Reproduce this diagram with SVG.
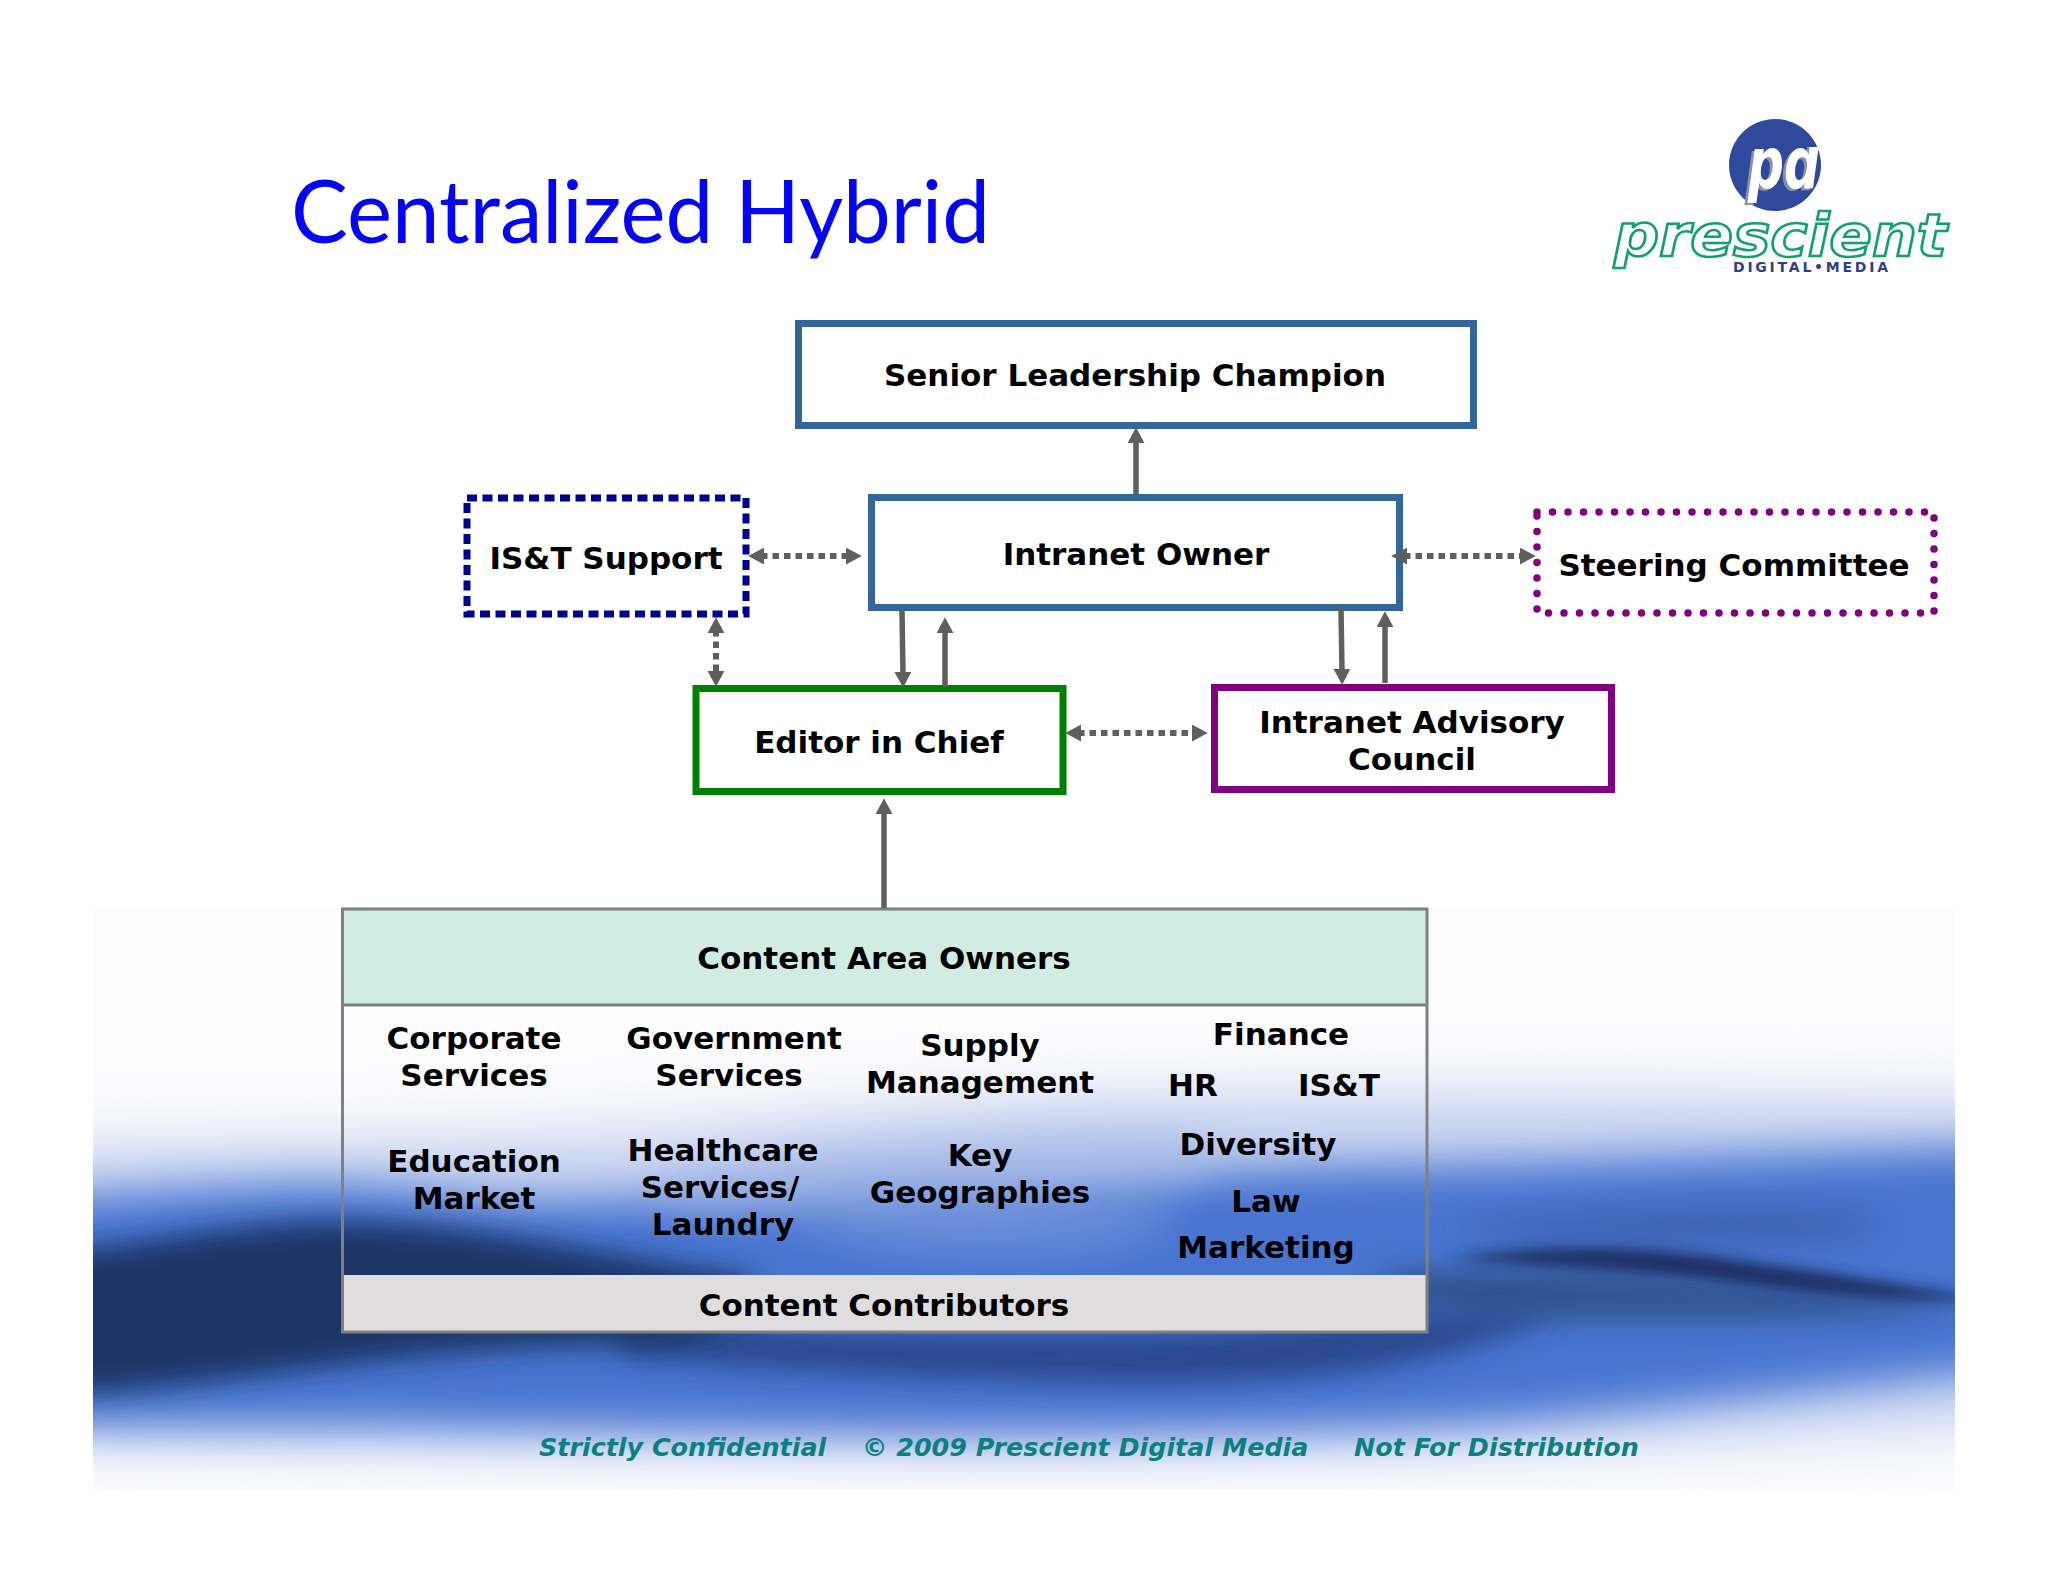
<svg xmlns="http://www.w3.org/2000/svg" width="2048" height="1582" viewBox="0 0 2048 1582">
<style>
.t{font-family:"DejaVu Sans",Verdana,sans-serif;font-weight:700;font-size:31px;fill:#000;text-anchor:middle}
.f{font-family:"DejaVu Sans",Verdana,sans-serif;font-weight:700;font-style:italic;font-size:25.400px;fill:#0a8080}
.box{fill:#fff;stroke-width:7}
.c{fill:none;stroke:#5f5f5f;stroke-width:5.500}
.d{stroke-width:6;stroke-dasharray:6.500 5}
.l{font-family:"DejaVu Sans",sans-serif;font-weight:700}
</style>
<defs>
<marker id="a" viewBox="0 0 10 10" refX="2" refY="5" markerUnits="userSpaceOnUse" markerWidth="16" markerHeight="17" orient="auto-start-reverse" preserveAspectRatio="none"><path d="M0 0L10 5L0 10Z" fill="#5f5f5f"/></marker>
<filter id="b40" x="-30%" y="-60%" width="160%" height="220%"><feGaussianBlur stdDeviation="28"/></filter>
<filter id="b25" x="-30%" y="-60%" width="160%" height="220%"><feGaussianBlur stdDeviation="22"/></filter>
<filter id="b12" x="-30%" y="-60%" width="160%" height="220%"><feGaussianBlur stdDeviation="14"/></filter>
<filter id="b6" x="-30%" y="-100%" width="160%" height="300%"><feGaussianBlur stdDeviation="7"/></filter>
<filter id="sh" x="-20%" y="-20%" width="140%" height="140%"><feDropShadow dx="-3" dy="2" stdDeviation="0.500" flood-color="#8a90a8"/></filter>
<clipPath id="bg"><rect x="93" y="908" width="1862" height="581"/></clipPath>
<clipPath id="pdc"><path d="M1700 147H1820V205H1700Z"/></clipPath>
</defs>
<rect width="2048" height="1582" fill="#fff"/>
<g clip-path="url(#bg)" id="backdrop">
<rect x="93" y="908" width="1862" height="581" fill="#fcfcfe"/>
<path d="M0 1150C200 1135 500 1145 800 1115C1100 1085 1500 1085 2050 1100V1420C1700 1450 1100 1465 600 1450C300 1445 100 1445 0 1435Z" fill="#c9d4f0" filter="url(#b40)"/>
<path d="M0 1200C150 1195 300 1175 420 1190C600 1215 700 1185 900 1180C1100 1180 1250 1165 1430 1165C1650 1160 1850 1150 2050 1145V1365C1850 1385 1700 1405 1500 1422C1200 1438 800 1432 500 1428C300 1424 100 1428 0 1425Z" fill="#4a74d0" filter="url(#b25)"/>
<path d="M640 1185C760 1155 1020 1130 1180 1135C1240 1145 1230 1170 1150 1185C1000 1210 760 1215 680 1205Z" fill="#a3b7e6" opacity=".75" filter="url(#b25)"/>
<path d="M800 1215C900 1200 1050 1200 1170 1205C1200 1225 1120 1250 1000 1250C900 1250 810 1235 800 1215Z" fill="#7f9cdf" opacity=".7" filter="url(#b25)"/>
<path d="M1450 1225C1600 1205 1750 1200 1850 1210C1900 1220 1880 1240 1800 1245C1650 1250 1520 1250 1450 1225Z" fill="#3f62b0" opacity=".85" filter="url(#b12)"/>
<path d="M1380 1275C1500 1262 1750 1275 1960 1310C1900 1318 1700 1322 1500 1318C1430 1318 1380 1300 1380 1275Z" fill="#31528f" filter="url(#b12)"/>
<path d="M620 1320C800 1330 1050 1345 1300 1325C1420 1315 1500 1310 1560 1315C1480 1345 1400 1378 1200 1382C1050 1385 800 1375 620 1355Z" fill="#2a478e" filter="url(#b12)"/>
<path d="M40 1255C170 1240 260 1220 350 1222C480 1224 600 1255 740 1275C780 1300 740 1335 660 1345C520 1345 420 1355 300 1370C180 1385 100 1395 40 1395Z" fill="#1f3566" filter="url(#b12)"/>
<path d="M1450 1258C1560 1242 1660 1247 1760 1264C1860 1277 1920 1290 2000 1300C1920 1305 1800 1292 1700 1278C1600 1268 1520 1265 1450 1258Z" fill="#1c2f60" filter="url(#b6)"/>
</g>
<g id="title"><text x="291" y="243" font-family="Lato,Carlito,sans-serif" font-size="88" fill="#0505f5" textLength="699" lengthAdjust="spacingAndGlyphs">Centralized Hybrid</text></g>
<g id="logo">
<circle cx="1775" cy="165" r="46" fill="#2f4a9c"/>
<g clip-path="url(#pdc)"><text class="l" x="1748" y="188" font-style="italic" font-size="72" fill="#fff" filter="url(#sh)" textLength="72" lengthAdjust="spacingAndGlyphs">pd</text></g>
<text class="l" x="1614" y="256" font-style="italic" font-size="58" fill="#fff" stroke="#14a06e" stroke-width="2.500" textLength="333" lengthAdjust="spacingAndGlyphs">prescient</text>
<text class="l" x="1733" y="272" font-size="14" fill="#2f3f8f" textLength="155">DIGITAL•MEDIA</text>
</g>
<g id="senior"><rect class="box" x="798.500" y="323.500" width="675" height="102" stroke="#336699"/><text class="t" x="1135" y="386">Senior Leadership Champion</text></g>
<g id="owner"><rect class="box" x="871.500" y="497.500" width="528" height="110" stroke="#336699"/><text class="t" x="1136" y="565">Intranet Owner</text></g>
<g id="ist"><rect x="467" y="498" width="279" height="116" fill="none" stroke="#000090" stroke-width="7" stroke-dasharray="10 5.500"/><text class="t" x="606" y="569">IS&amp;T Support</text></g>
<g id="steering"><rect x="1537" y="512" width="397" height="101" fill="none" stroke="#800080" stroke-width="7.500" stroke-dasharray="0 15.500" stroke-linecap="round"/><text class="t" x="1734" y="576">Steering Committee</text></g>
<g id="editor"><rect class="box" x="696" y="688.500" width="367" height="103" stroke="#008000"/><text class="t" x="879" y="753">Editor in Chief</text></g>
<g id="advisory"><rect class="box" x="1214.500" y="687.500" width="397" height="102" stroke="#800080"/><text class="t" x="1412" y="733">Intranet Advisory</text><text class="t" x="1412" y="770">Council</text></g>
<g id="content">
<rect x="343" y="909" width="1084" height="96" fill="#d1ede3"/>
<rect x="343" y="1275" width="1084" height="57" fill="#dfdddd"/>
<rect x="342.500" y="909" width="1084.500" height="423" fill="none" stroke="#808080" stroke-width="3"/>
<path d="M343 1005H1426" stroke="#808080" stroke-width="3" fill="none"/>
<text class="t" x="884" y="969">Content Area Owners</text>
<text class="t" x="474" y="1049">Corporate</text><text class="t" x="474" y="1086">Services</text>
<text class="t" x="734" y="1049">Government</text><text class="t" x="729" y="1086">Services</text>
<text class="t" x="980" y="1056">Supply</text><text class="t" x="980" y="1093">Management</text>
<text class="t" x="1281" y="1045">Finance</text><text class="t" x="1193" y="1096">HR</text><text class="t" x="1339" y="1096">IS&amp;T</text>
<text class="t" x="1258" y="1155">Diversity</text>
<text class="t" x="474" y="1172">Education</text><text class="t" x="474" y="1209">Market</text>
<text class="t" x="723" y="1161">Healthcare</text><text class="t" x="720" y="1198">Services/</text><text class="t" x="723" y="1235">Laundry</text>
<text class="t" x="980" y="1166">Key</text><text class="t" x="980" y="1203">Geographies</text>
<text class="t" x="1266" y="1212">Law</text><text class="t" x="1266" y="1258">Marketing</text>
<text class="t" x="884" y="1316">Content Contributors</text>
</g>
<g id="connectors">
<path class="c" d="M1136 494V440" marker-end="url(#a)"/>
<path class="c d" d="M761 556H849" marker-start="url(#a)" marker-end="url(#a)"/>
<path class="c d" d="M1404 556H1523" marker-start="url(#a)" marker-end="url(#a)"/>
<path class="c d" d="M716 630V674" marker-start="url(#a)" marker-end="url(#a)"/>
<path class="c" d="M902 611L903 675" marker-end="url(#a)"/>
<path class="c" d="M945 687V630" marker-end="url(#a)"/>
<path class="c" d="M1341 608L1342 672" marker-end="url(#a)"/>
<path class="c" d="M1385 683V624" marker-end="url(#a)"/>
<path class="c d" d="M1078 733H1195" marker-start="url(#a)" marker-end="url(#a)"/>
<path class="c" d="M884 908V811" marker-end="url(#a)"/>
</g>
<g id="footer"><text class="f" x="539" y="1456">Strictly Confidential</text><text class="f" x="862" y="1456">© 2009 Prescient Digital Media</text><text class="f" x="1354" y="1456">Not For Distribution</text></g>
</svg>
